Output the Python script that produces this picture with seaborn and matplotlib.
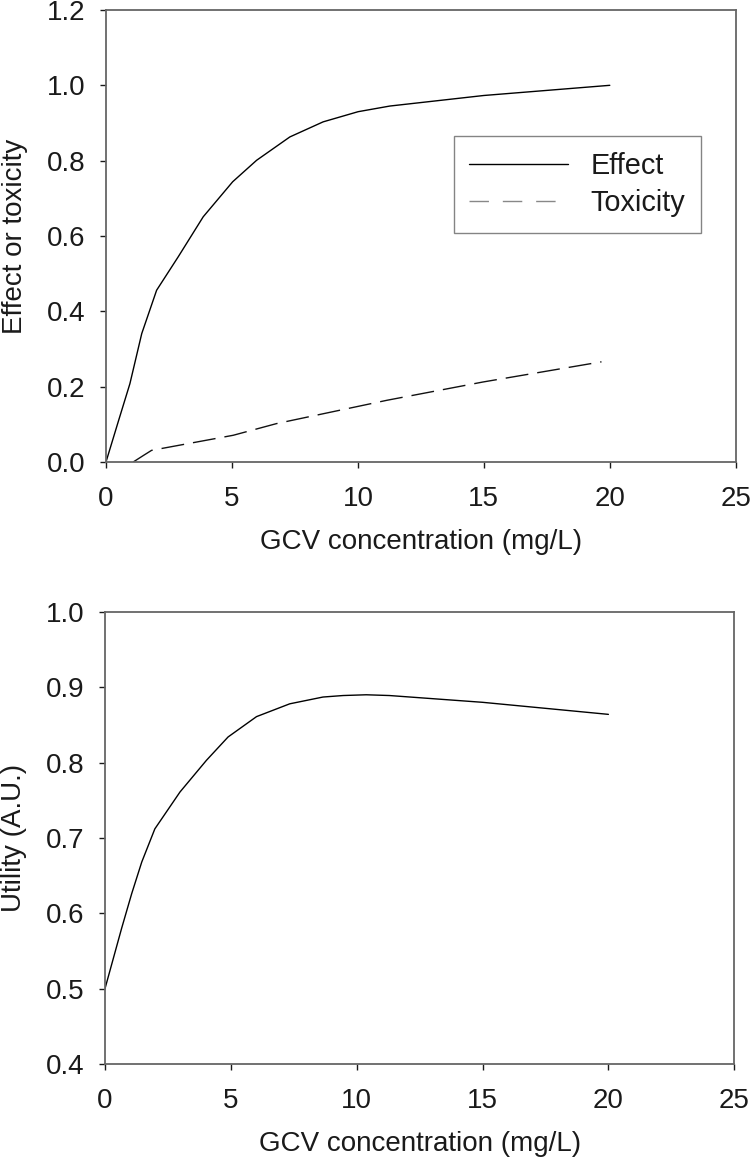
import pandas as pd
import matplotlib
matplotlib.use("Agg")
import matplotlib.pyplot as plt
import seaborn as sns

# values
effect_conc = [0, 0.5, 0.95, 1.42, 2.01, 2.87, 3.86, 5.03, 5.98, 7.30, 8.62, 10.01, 11.27, 15, 20]
effect_val = [0, 0.11, 0.208, 0.341, 0.456, 0.545, 0.651, 0.744, 0.801, 0.863, 0.903, 0.930, 0.945, 0.973, 1.0]

tox_conc = [1.08, 1.5, 1.81, 5.05, 6.77, 11.16, 14.97, 19.67]
tox_val = [0, 0.018, 0.031, 0.071, 0.102, 0.164, 0.2125, 0.266]

util_conc = [0, 0.66, 1.06, 1.46, 1.98, 2.98, 4.03, 4.89, 6.02, 7.34, 8.66, 9.46, 10.38, 11.3, 15, 20]
util_val = [0.5, 0.58, 0.626, 0.668, 0.712, 0.761, 0.803, 0.834, 0.861, 0.878, 0.887, 0.889, 0.890, 0.889, 0.880, 0.864]

x_label = "GCV concentration (mg/L)"

sns.set_theme(style="ticks")
plt.rcParams.update({
    'font.family': ['Liberation Sans', 'DejaVu Sans'],
    'font.size': 20,
    'text.color': '#1a1a1a',
    'axes.labelcolor': '#1a1a1a',
    'xtick.color': '#1a1a1a',
    'ytick.color': '#1a1a1a',
    'axes.edgecolor': '#666666',
    'axes.linewidth': 1.3,
    'xtick.major.size': 4.5,
    'ytick.major.size': 4.5,
    'xtick.major.width': 1.0,
    'ytick.major.width': 1.0,
    'xtick.labelsize': 20,
    'ytick.labelsize': 20,
    'axes.labelsize': 20,
})

fig = plt.figure(figsize=(7.5, 11.6), dpi=100)
ax1 = fig.add_axes([0.1413, 0.6017, 0.8397, 0.3897])
ax2 = fig.add_axes([0.14, 0.0828, 0.839, 0.3897])

effect_df = pd.DataFrame({'conc': effect_conc, 'value': effect_val})
tox_df = pd.DataFrame({'conc': tox_conc, 'value': tox_val})
util_df = pd.DataFrame({'conc': util_conc, 'value': util_val})

# ---- top panel: effect and toxicity
sns.lineplot(data=effect_df, x='conc', y='value', ax=ax1, color='black',
             linewidth=1.0, label='Effect')
sns.lineplot(data=tox_df, x='conc', y='value', ax=ax1, color='#111111',
             linewidth=1.0, label='Toxicity')
ax1.lines[1].set_dashes([16.5, 6.5])

ax1.set_xlim(0, 25)
ax1.set_ylim(0, 1.2)
ax1.set_xticks([0, 5, 10, 15, 20, 25])
ax1.set_yticks([0, 0.2, 0.4, 0.6, 0.8, 1.0, 1.2])
ax1.set_yticklabels([f"{v:.1f}" for v in ax1.get_yticks()])
ax1.set_xlabel(x_label, labelpad=12)
ax1.set_ylabel("Effect or toxicity", labelpad=14)
ax1.tick_params(axis='x', pad=13)
ax1.tick_params(axis='y', pad=10)

leg = ax1.legend(loc='upper left', bbox_to_anchor=(0.552, 0.721),
                 frameon=True, fancybox=False, handlelength=3.4,
                 handletextpad=0.8, labelspacing=0.3, borderpad=0.55,
                 borderaxespad=0, fontsize=20.8)
leg.get_frame().set_edgecolor('#666666')
leg.get_frame().set_linewidth(1.0)
leg.get_lines()[1].set_color('#888888')
leg.get_lines()[1].set_dashes([14, 10])

# ---- bottom panel: utility
sns.lineplot(data=util_df, x='conc', y='value', ax=ax2, color='black',
             linewidth=1.0)
ax2.set_xlim(0, 25)
ax2.set_ylim(0.4, 1.0)
ax2.set_xticks([0, 5, 10, 15, 20, 25])
ax2.set_yticks([0.4, 0.5, 0.6, 0.7, 0.8, 0.9, 1.0])
ax2.set_yticklabels([f"{v:.1f}" for v in ax2.get_yticks()])
ax2.set_xlabel(x_label, labelpad=12)
ax2.set_ylabel("Utility (A.U.)", labelpad=14)
ax2.tick_params(axis='x', pad=13)
ax2.tick_params(axis='y', pad=10)

for ax in (ax1, ax2):
    for side in ['top', 'right', 'left', 'bottom']:
        ax.spines[side].set_visible(True)

fig.savefig("out.png", dpi=100)
